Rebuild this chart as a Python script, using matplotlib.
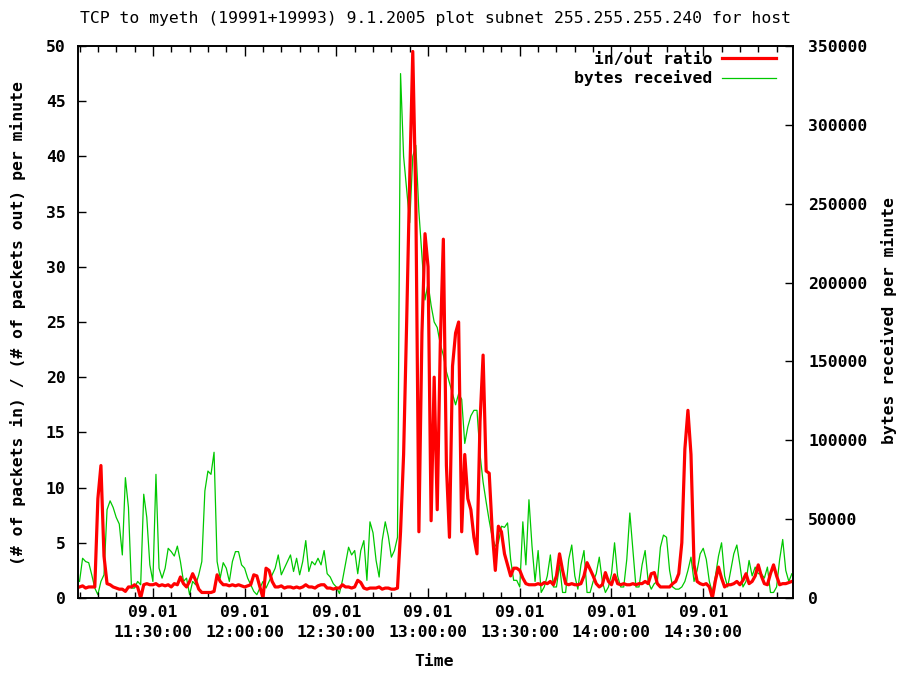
import numpy as np
import matplotlib
matplotlib.use("Agg")
import matplotlib.pyplot as plt
import matplotlib.dates as mdates

# one sample per minute, starting 9.1.2005 11:06
start = np.datetime64("2005-01-09T11:06")

# (# packets in) / (# packets out) per minute
ratio = [
    1.0, 1.1, 0.9, 1.0, 1.0, 1.0, 9.0, 12.0, 3.8, 1.3,
    1.2, 1.0, 0.9, 0.8, 0.8, 0.6, 1.0, 1.0, 1.2, 1.0,
    0.0, 1.2, 1.3, 1.2, 1.2, 1.3, 1.1, 1.2, 1.1, 1.2,
    1.0, 1.3, 1.2, 1.9, 1.3, 1.0, 1.5, 2.2, 1.6, 0.8,
    0.5, 0.5, 0.5, 0.5, 0.6, 2.1, 1.5, 1.2, 1.2, 1.1,
    1.2, 1.1, 1.2, 1.1, 1.0, 1.1, 1.2, 2.1, 2.0, 1.0,
    0.0, 2.7, 2.5, 1.5, 1.0, 1.0, 1.1, 0.9, 1.0, 1.0,
    0.9, 1.0, 0.9, 1.0, 1.2, 1.0, 1.0, 0.9, 1.1, 1.2,
    1.2, 0.9, 0.9, 0.8, 0.9, 0.9, 1.2, 1.0, 1.0, 0.9,
    1.0, 1.6, 1.4, 0.9, 0.8, 0.9, 0.9, 0.9, 1.0, 0.8,
    0.9, 0.9, 0.8, 0.8, 0.9, 6.0, 13.0, 25.0, 38.0, 49.5,
    36.0, 6.0, 24.0, 33.0, 30.0, 7.0, 20.0, 8.0, 23.0, 32.5,
    12.0, 5.5, 21.0, 24.0, 25.0, 6.0, 13.0, 9.0, 8.0, 5.5,
    4.0, 16.0, 22.0, 11.5, 11.3, 6.0, 2.5, 6.5, 6.0, 4.0,
    3.0, 2.0, 2.7, 2.7, 2.5, 1.8, 1.3, 1.2, 1.2, 1.2,
    1.3, 1.2, 1.4, 1.3, 1.5, 1.2, 2.0, 4.0, 2.5, 1.3,
    1.2, 1.3, 1.2, 1.2, 1.3, 2.0, 3.2, 2.6, 2.0, 1.3,
    1.0, 1.2, 2.3, 1.5, 1.2, 2.1, 1.3, 1.2, 1.3, 1.2,
    1.2, 1.3, 1.2, 1.3, 1.3, 1.5, 1.3, 2.2, 2.3, 1.3,
    1.0, 1.0, 1.0, 1.0, 1.3, 1.5, 2.2, 5.0, 13.5, 17.0,
    13.0, 3.0, 1.5, 1.3, 1.2, 1.3, 1.0, 0.0, 1.6, 2.8,
    1.8, 1.0, 1.2, 1.2, 1.3, 1.5, 1.2, 1.6, 2.2, 1.3,
    1.5, 2.0, 3.0, 2.0, 1.3, 1.2, 2.2, 3.0, 2.0, 1.2,
    1.3, 1.3, 1.4, 1.5,
]

# bytes received per minute
bytes_rx = [
    10500, 25200, 23100, 22400, 14700, 6300, 2100, 10500, 14700, 56000,
    61600, 57400, 51100, 46900, 27300, 76300, 57400, 6300, 6300, 10500,
    8400, 65800, 51100, 21000, 10500, 78400, 18900, 12600, 18900, 31500,
    29400, 26600, 32900, 23100, 10500, 12600, 2100, 10500, 8400, 14700,
    23100, 67900, 80500, 78400, 92400, 23100, 12600, 22400, 18900, 10500,
    23100, 29400, 29400, 21000, 18900, 12600, 8400, 4200, 2100, 6300,
    10500, 6300, 10500, 14700, 18900, 27300, 14700, 18900, 23100, 27300,
    16800, 25200, 14700, 23100, 36400, 16800, 23100, 21000, 25200, 21000,
    30100, 15400, 13300, 9100, 7000, 2800, 11200, 21700, 32200, 27300,
    30100, 15400, 30100, 36400, 11200, 48300, 41300, 23800, 13300, 36400,
    48300, 39200, 25900, 30100, 38500, 332500, 280000, 259000, 238000, 280000,
    287000, 245000, 217000, 189000, 199500, 185500, 175000, 171500, 161000, 154000,
    143500, 136500, 129500, 122500, 129500, 126000, 98000, 108500, 115500, 119000,
    119000, 91000, 73500, 60900, 49000, 38500, 32900, 35000, 45500, 44800,
    47600, 24500, 11200, 11200, 7000, 48300, 21000, 62300, 32900, 10500,
    30100, 3500, 7000, 14000, 27300, 7000, 7000, 21000, 3500, 3500,
    24500, 33600, 14000, 5600, 21000, 30100, 3500, 3500, 10500, 15400,
    25900, 10500, 3500, 7000, 15400, 35000, 14000, 7000, 7000, 24500,
    53900, 30100, 7000, 7000, 21000, 30100, 10500, 5600, 9100, 10500,
    32200, 39900, 38500, 17500, 7000, 5600, 5600, 7000, 10500, 17500,
    25900, 10500, 17500, 28000, 31500, 24500, 10500, 3500, 14000, 26600,
    35000, 14000, 7000, 17500, 28000, 33600, 21000, 7000, 10500, 23800,
    14000, 19600, 15400, 15400, 12600, 19600, 3500, 3500, 7000, 24500,
    37100, 17500, 10500, 15400,
]

times = (start + np.arange(len(ratio)) * np.timedelta64(1, "m")).astype("datetime64[s]").astype(object)

mono = "DejaVu Sans Mono"
fs = 11.8

fig = plt.figure(figsize=(8.99, 6.73), dpi=100)
ax = fig.add_axes([78 / 899, 75 / 673, 715 / 899, 552 / 673])
ax2 = ax.twinx()

l1, = ax.plot(times, ratio, color="#ff0000", lw=2.3, zorder=2)
l2, = ax2.plot(times, bytes_rx, color="#00c800", lw=0.9, zorder=3)
ax.set_zorder(ax2.get_zorder() + 1)
ax.patch.set_visible(False)

ax.set_ylim(0, 50)
ax2.set_ylim(0, 350000)
ax.set_yticks(np.arange(0, 51, 5))
ax2.set_yticks(np.arange(0, 350001, 50000))
t0 = np.datetime64("2005-01-09T11:05:30").astype(object)
t1 = np.datetime64("2005-01-09T14:59:22").astype(object)
ax.set_xlim(t0, t1)

ax.xaxis.set_major_locator(mdates.MinuteLocator(byminute=[0, 30]))
ax.xaxis.set_minor_locator(mdates.MinuteLocator(byminute=range(0, 60, 6)))
ax.xaxis.set_major_formatter(mdates.DateFormatter("%d.%m\n%H:%M:%S"))

ax.tick_params(axis="x", which="both", direction="in", top=True, pad=5)
ax.tick_params(axis="x", which="major", length=7, width=1)
ax.tick_params(axis="x", which="minor", length=4, width=1)
ax.tick_params(axis="y", direction="in", length=6, width=1, pad=9, right=False)
ax2.tick_params(axis="y", direction="in", length=6, width=1, pad=11)

for lab in ax.get_xticklabels() + ax.get_yticklabels() + ax2.get_yticklabels():
    lab.set_fontfamily(mono)
    lab.set_fontsize(fs)
    lab.set_fontweight("bold")
for lab in ax.get_xticklabels():
    lab.set_linespacing(1.4)

for a in (ax, ax2):
    for s in a.spines.values():
        s.set_linewidth(1.2)

fig.text(435 / 899, 1 - 18 / 673,
         "TCP to myeth (19991+19993) 9.1.2005 plot subnet 255.255.255.240 for host",
         ha="center", va="center", fontfamily=mono, fontsize=fs)
fig.text(434 / 899, 1 - 662 / 673, "Time", ha="center", va="center",
         fontfamily=mono, fontsize=fs, fontweight="bold")
fig.text(18 / 899, 1 - 323 / 673, "(# of packets in) / (# of packets out) per minute",
         rotation=90, ha="center", va="center", fontfamily=mono, fontsize=fs,
         fontweight="bold")
fig.text(889 / 899, 1 - 321 / 673, "bytes received per minute",
         rotation=90, ha="center", va="center", fontfamily=mono, fontsize=fs,
         fontweight="bold")

leg = ax.legend([l1, l2], ["in/out ratio", "bytes received"], loc="upper right",
                bbox_to_anchor=(776 / 899, 1 - 52 / 673), bbox_transform=fig.transFigure,
                frameon=False, markerfirst=False, handlelength=3.3, handletextpad=0.6,
                labelspacing=0.2, borderaxespad=0, borderpad=0,
                prop={"family": mono, "size": fs, "weight": "bold"})

fig.savefig("out.png", dpi=100)
